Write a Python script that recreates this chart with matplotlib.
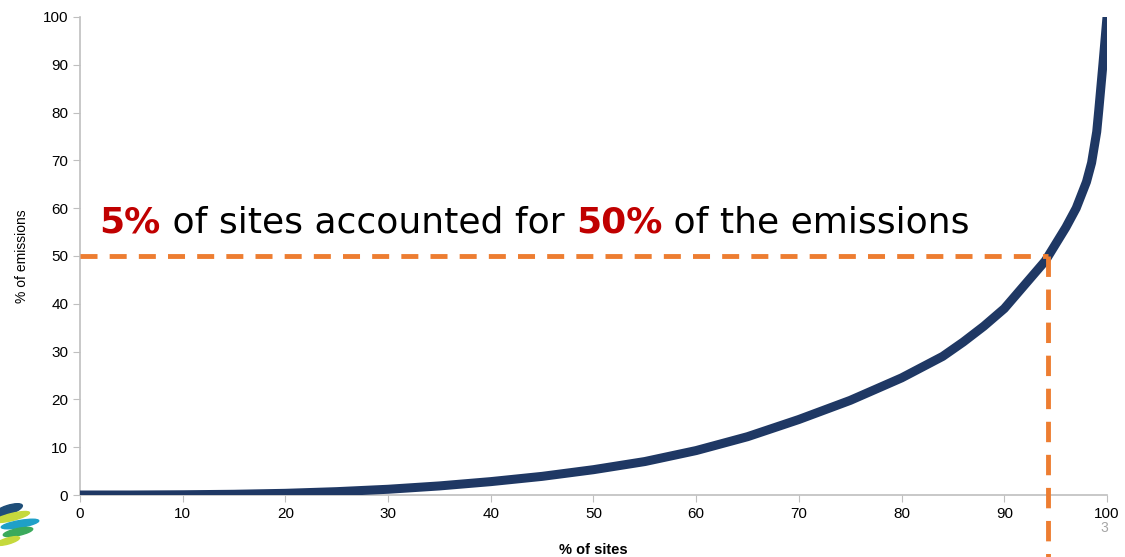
import matplotlib.pyplot as plt
from matplotlib.patches import Ellipse

# cumulative share of emissions vs share of sites
pct_sites = [0, 5, 10, 15, 20, 25, 30, 35, 40, 45, 50, 55, 60, 65, 70, 75, 80,
             84, 86, 88, 90, 91, 92, 93, 94, 95, 96, 97, 98, 98.5, 99, 99.2,
             99.6, 99.8, 100]
pct_emissions = [0, 0, 0.05, 0.15, 0.35, 0.7, 1.2, 1.9, 2.8, 3.9, 5.3, 7.0,
                 9.3, 12.2, 15.8, 19.8, 24.5, 29.0, 32.0, 35.3, 39.0, 41.5,
                 44.0, 46.5, 49.0, 52.5, 56.0, 60.0, 65.5, 69.5, 76.0, 80.5,
                 90.0, 95.0, 100]

cut_x = 94.3
cut_y = 50
ticks = list(range(0, 101, 10))

NAVY = "#1F3864"
ORANGE = "#ED7D31"
RED = "#C00000"
GREY = "#BFBFBF"

plt.rcParams["font.family"] = ["Liberation Sans", "DejaVu Sans"]

fig = plt.figure(figsize=(11.25, 5.57), dpi=100)
ax = fig.add_axes([0.0711, 0.1113, 0.9129, 0.8582])

ax.plot(pct_sites, pct_emissions, color=NAVY, lw=6.5,
        solid_capstyle="round", solid_joinstyle="round", zorder=3)

ax.plot([0, cut_x], [cut_y, cut_y], color=ORANGE, lw=3.5,
        dashes=(3.5, 2.5), zorder=4)
ax.plot([cut_x, cut_x], [cut_y, -13.5], color=ORANGE, lw=3.5,
        dashes=(4.2, 2.6), zorder=4, clip_on=False)

ax.set_xlim(0, 100)
ax.set_ylim(0, 100)
ax.set_xticks(ticks)
ax.set_yticks(ticks)
ax.tick_params(colors=GREY, labelcolor="black", labelsize=11, length=5,
               direction="out")
for s in ["top", "right"]:
    ax.spines[s].set_visible(False)
for s in ["left", "bottom"]:
    ax.spines[s].set_color(GREY)
    ax.spines[s].set_linewidth(1.2)

ax.set_xlabel("% of sites", fontsize=10.5, fontweight="bold", labelpad=16)
ax.set_ylabel("% of emissions", fontsize=10, labelpad=10)

# headline with coloured parts
parts = [("5%", RED, "bold"), (" of sites accounted for ", "black", "normal"),
         ("50%", RED, "bold"), (" of the emissions", "black", "normal")]
prev = None
for txt, col, wt in parts:
    kw = dict(fontsize=26, color=col, fontweight=wt,
              family=["DejaVu Sans"])
    if prev is None:
        prev = ax.text(1.9, 55.0, txt, va="baseline", **kw)
    else:
        prev = ax.annotate(txt, xy=(1, 0), xycoords=prev, ha="left",
                           va="bottom", **kw)

fig.text(0.978, 0.045, "3", color="#A6A6A6", fontsize=10)

# partial logo in the bottom-left corner
px = fig.dpi_scale_trans
logo = [(8, 47, 30, 9, 18, "#1F4E79"), (12, 40, 36, 7, 14, "#C5D93C"),
        (20, 33, 38, 7, 10, "#1FA0C8"), (18, 25, 30, 7, 12, "#3BAA5C"),
        (8, 16, 24, 6, 16, "#C5D93C")]
for cx, cy, w, h, ang, col in logo:
    fig.patches.append(Ellipse((cx / 100, cy / 100), w / 100, h / 100,
                               angle=ang, color=col, transform=px,
                               figure=fig))

fig.savefig("out.png", dpi=100)
